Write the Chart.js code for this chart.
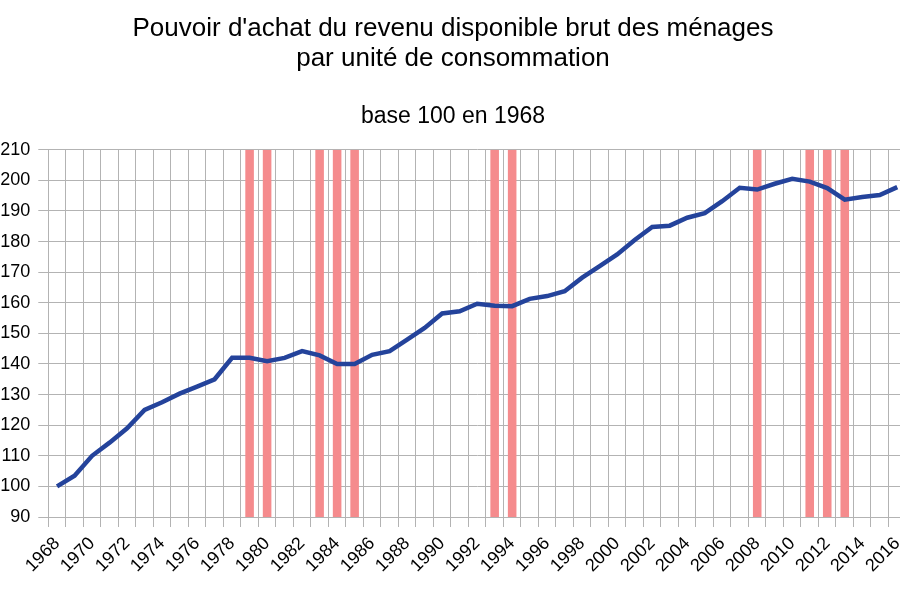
<!DOCTYPE html>
<html>
<head>
<meta charset="utf-8">
<script src="https://cdn.jsdelivr.net/npm/chart.js@4.4.1/dist/chart.umd.min.js"></script>
<style>
  html, body { margin: 0; padding: 0; background: #ffffff; overflow: hidden; }
  #wrap { width: 912px; height: 600px; }
</style>
</head>
<body>
<div id="wrap"><canvas id="c" width="912" height="600"></canvas></div>
<script>
const years = [1968,1969,1970,1971,1972,1973,1974,1975,1976,1977,1978,1979,1980,1981,1982,1983,1984,1985,1986,1987,1988,1989,1990,1991,1992,1993,1994,1995,1996,1997,1998,1999,2000,2001,2002,2003,2004,2005,2006,2007,2008,2009,2010,2011,2012,2013,2014,2015,2016];
const pouvoirAchat = [100,103.5,110,114.3,119,125,127.5,130.3,132.6,135,142,142,140.9,142,144.2,142.8,140,140,143,144.2,148,151.8,156.5,157.2,159.7,159,158.9,161.3,162.2,163.8,168.2,172,175.8,180.5,184.8,185.2,187.8,189.3,193.2,197.6,197,198.9,200.5,199.6,197.5,193.7,194.6,195.2,197.8];
const recessionYears = [1979,1980,1983,1984,1985,1993,1994,2008,2011,2012,2013];
const yMin = 90, yMax = 210, yStep = 10;
const titleLines = ["Pouvoir d'achat du revenu disponible brut des ménages", "par unité de consommation"];
const subtitleText = "base 100 en 1968";

const labels = years.map(String);
const recessionBars = years.map(y => recessionYears.includes(y) ? [yMin, yMax] : null);
const FONT = "'Liberation Sans', Arial, sans-serif";

new Chart(document.getElementById('c'), {
  data: {
    labels: labels,
    datasets: [
      {
        type: 'line',
        label: 'Pouvoir d\'achat',
        data: pouvoirAchat,
        borderColor: '#24439b',
        borderWidth: 4.5,
        pointRadius: 0,
        tension: 0,
        fill: false,
        order: 0
      },
      {
        type: 'bar',
        label: 'Récession',
        data: recessionBars,
        backgroundColor: '#f58b8d',
        borderWidth: 0,
        barPercentage: 0.49,
        categoryPercentage: 1,
        order: 1
      }
    ]
  },
  options: {
    responsive: false,
    animation: false,
    devicePixelRatio: 1,
    layout: { padding: { left: 0, right: 6, top: 0, bottom: 0 } },
    plugins: {
      legend: { display: false },
      tooltip: { enabled: false },
      title: {
        display: true,
        text: titleLines,
        color: '#000000',
        font: { family: FONT, size: 26, weight: 'normal', lineHeight: 1.165 },
        padding: { top: 13.5, bottom: 0 }
      },
      subtitle: {
        display: true,
        text: subtitleText,
        color: '#000000',
        font: { family: FONT, size: 23, weight: 'normal', lineHeight: 1.2 },
        padding: { top: 28.9, bottom: 19.2 }
      }
    },
    scales: {
      x: {
        type: 'category',
        offset: true,
        grid: { offset: true, color: '#b3b3b3', lineWidth: 1, tickLength: 10, drawTicks: true },
        border: { color: '#b3b3b3' },
        ticks: {
          autoSkip: false,
          minRotation: 45,
          maxRotation: 45,
          padding: 6,
          color: '#000000',
          font: { family: FONT, size: 18 },
          callback: function(value, index) { return index % 2 === 0 ? this.getLabelForValue(value) : ''; }
        },
        afterFit: function(scale) { scale.height = 83; scale.paddingLeft = 0; scale.paddingRight = 0; }
      },
      y: {
        min: yMin,
        max: yMax,
        grid: { color: '#b3b3b3', lineWidth: 1, tickLength: 10, drawTicks: true },
        border: { color: '#b3b3b3' },
        ticks: {
          stepSize: yStep,
          padding: 8,
          color: '#000000',
          font: { family: FONT, size: 18 }
        },
        afterFit: function(scale) { scale.width = 48.3; }
      }
    }
  }
});
</script>
</body>
</html>
